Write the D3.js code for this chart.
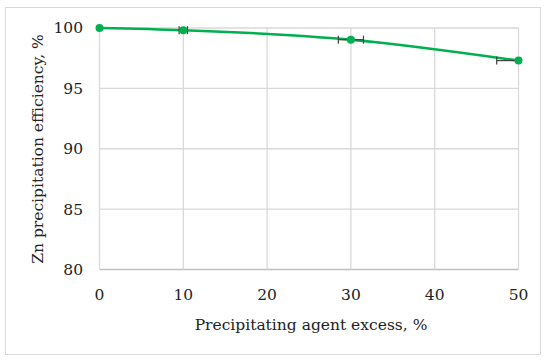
<!DOCTYPE html>
<html>
<head>
<meta charset="utf-8">
<script src="https://cdn.jsdelivr.net/npm/d3@7"></script>
<style>
  body { margin: 0; background: #fff; }
  text { font-family: "DejaVu Serif", "Liberation Serif", serif; fill: #222; }
</style>
</head>
<body>
<svg id="chart"></svg>
<script>
const WIDTH = 550;
const HEIGHT = 362;

const excess = [0, 10, 30, 50];
const efficiency = [100, 99.82, 99.03, 97.3];
const errMinus = [0, 0.5, 1.5, 2.6];
const errPlus = [0, 0.5, 1.5, 0];
const xTicks = [0, 10, 20, 30, 40, 50];
const yTicks = [80, 85, 90, 95, 100];

const data = excess.map((x, i) => ({ x, y: efficiency[i], lo: errMinus[i], hi: errPlus[i] }));

const svg = d3.select("#chart").attr("width", WIDTH).attr("height", HEIGHT);

svg.append("rect")
  .attr("x", 5.5).attr("y", 7.5)
  .attr("width", 535).attr("height", 347)
  .attr("fill", "#fff").attr("stroke", "#d9d9d9");

const x = d3.scaleLinear().domain([0, 50]).range([99.5, 518.5]);
const y = d3.scaleLinear().domain([80, 100]).range([269.5, 28]);

// grid
svg.append("g")
  .selectAll("line")
  .data(yTicks)
  .join("line")
  .attr("x1", x(0)).attr("x2", x(50))
  .attr("y1", (d) => y(d)).attr("y2", (d) => y(d))
  .attr("stroke", (d) => (d === 80 ? "#bfbfbf" : "#d9d9d9"))
  .attr("stroke-width", 1.3);

svg.append("g")
  .selectAll("line")
  .data(xTicks)
  .join("line")
  .attr("x1", (d) => x(d)).attr("x2", (d) => x(d))
  .attr("y1", y(80)).attr("y2", y(100))
  .attr("stroke", "#d9d9d9")
  .attr("stroke-width", 1.3);

// tick labels
svg.append("g")
  .selectAll("text")
  .data(yTicks)
  .join("text")
  .attr("x", 83)
  .attr("y", (d) => y(d))
  .attr("dy", "0.35em")
  .attr("text-anchor", "end")
  .attr("font-size", 15.5)
  .text((d) => d);

svg.append("g")
  .selectAll("text")
  .data(xTicks)
  .join("text")
  .attr("x", (d) => x(d))
  .attr("y", 300)
  .attr("text-anchor", "middle")
  .attr("font-size", 15.5)
  .text((d) => d);

svg.append("text")
  .attr("x", 311).attr("y", 330)
  .attr("text-anchor", "middle")
  .attr("font-size", 15.5)
  .text("Precipitating agent excess, %");

svg.append("text")
  .attr("transform", `translate(43, ${149}) rotate(-90)`)
  .attr("text-anchor", "middle")
  .attr("font-size", 15.5)
  .text("Zn precipitation efficiency, %");

// line
const line = d3.line()
  .x((d) => x(d.x))
  .y((d) => y(d.y))
  .curve(d3.curveMonotoneX);

svg.append("path")
  .datum(data)
  .attr("d", line)
  .attr("fill", "none")
  .attr("stroke", "#00b050")
  .attr("stroke-width", 2.5);

// error bars
const eb = svg.append("g").attr("stroke", "#404040").attr("stroke-width", 1.2);
data.filter((d) => d.lo > 0 || d.hi > 0).forEach((d) => {
  const x0 = x(d.x - d.lo);
  const x1 = x(d.x + d.hi);
  eb.append("line").attr("x1", x0).attr("x2", x1).attr("y1", y(d.y)).attr("y2", y(d.y));
  [x0, x1].forEach((cx) => {
    if (cx === x(d.x)) return;
    eb.append("line").attr("x1", cx).attr("x2", cx).attr("y1", y(d.y) - 4).attr("y2", y(d.y) + 4);
  });
});

svg.append("g")
  .selectAll("circle")
  .data(data)
  .join("circle")
  .attr("cx", (d) => x(d.x))
  .attr("cy", (d) => y(d.y))
  .attr("r", 4)
  .attr("fill", "#00b050");
</script>
</body>
</html>
